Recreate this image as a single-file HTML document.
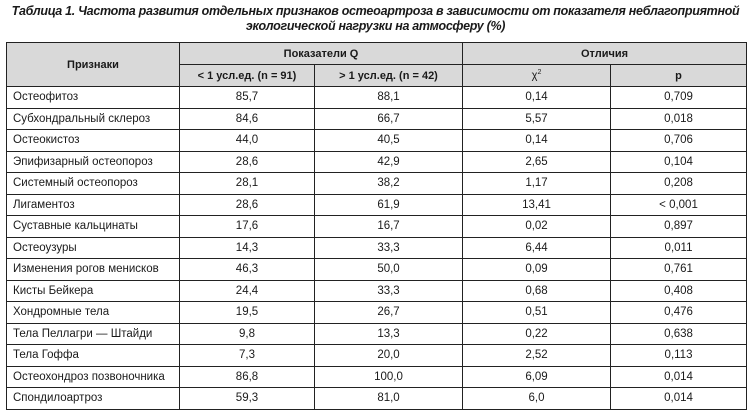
<!DOCTYPE html>
<html><head><meta charset="utf-8"><style>
html,body{margin:0;padding:0;background:#fff;width:751px;height:414px;overflow:hidden}
body{font-family:"Liberation Sans","DejaVu Sans",sans-serif;color:#1a1a1a}
.title{position:absolute;left:0;top:4px;width:751px;text-align:center;font-weight:bold;font-style:italic;font-size:12.5px;line-height:15px;letter-spacing:-0.3px;white-space:nowrap}
table{position:absolute;left:6px;top:42px;border-collapse:collapse;table-layout:fixed;width:740px;font-size:11.5px}
td,th{border:1px solid #222;padding:0;text-align:center;white-space:nowrap}
th{background:#d9d9d9;font-weight:bold;height:21px;font-size:11px}
td{height:20.5px}
td.n{text-align:left;padding-left:6px}
</style></head><body>
<div class="title">Таблица 1. Частота развития отдельных признаков остеоартроза в зависимости от показателя неблагоприятной<br>экологической нагрузки на атмосферу (%)</div>
<table>
<colgroup><col style="width:173px"><col style="width:135px"><col style="width:148px"><col style="width:148px"><col style="width:136px"></colgroup>
<thead>
<tr><th rowspan="2">Признаки</th><th colspan="2">Показатели Q</th><th colspan="2">Отличия</th></tr>
<tr><th>&lt; 1 усл.ед. (n = 91)</th><th>&gt; 1 усл.ед. (n = 42)</th><th style="font-weight:normal">χ<sup style="font-size:7px">2</sup></th><th>p</th></tr>
</thead>
<tbody id="tb"></tbody>
</table>
<script>
const names=["Остеофитоз","Субхондральный склероз","Остеокистоз","Эпифизарный остеопороз","Системный остеопороз","Лигаментоз","Суставные кальцинаты","Остеоузуры","Изменения рогов менисков","Кисты Бейкера","Хондромные тела","Тела Пеллагри — Штайди","Тела Гоффа","Остеохондроз позвоночника","Спондилоартроз"];
const lt1=["85,7","84,6","44,0","28,6","28,1","28,6","17,6","14,3","46,3","24,4","19,5","9,8","7,3","86,8","59,3"];
const gt1=["88,1","66,7","40,5","42,9","38,2","61,9","16,7","33,3","50,0","33,3","26,7","13,3","20,0","100,0","81,0"];
const chi=["0,14","5,57","0,14","2,65","1,17","13,41","0,02","6,44","0,09","0,68","0,51","0,22","2,52","6,09","6,0"];
const pv=["0,709","0,018","0,706","0,104","0,208","< 0,001","0,897","0,011","0,761","0,408","0,476","0,638","0,113","0,014","0,014"];
const tb=document.getElementById('tb');
names.forEach((n,i)=>{
  const tr=document.createElement('tr');
  
  
  [n,lt1[i],gt1[i],chi[i],pv[i]].forEach((v,j)=>{
    const td=document.createElement('td');
    if(j===0)td.className='n';
    td.textContent=v;
    
    
    tr.appendChild(td);
  });
  tb.appendChild(tr);
});
</script>
</body></html>
